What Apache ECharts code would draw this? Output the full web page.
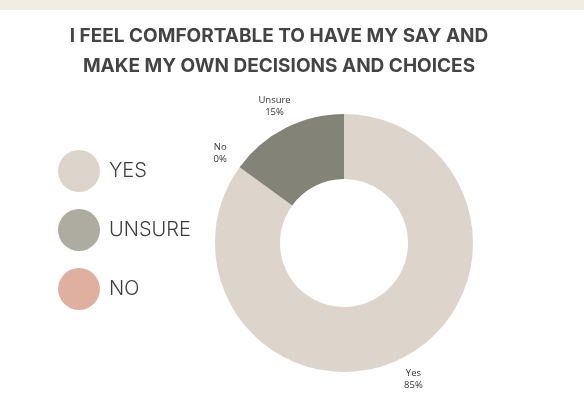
<!DOCTYPE html>
<html><head><meta charset="utf-8">
<script src="https://cdn.jsdelivr.net/npm/echarts@6/dist/echarts.min.js"></script>
<style>html,body{margin:0;padding:0;background:#fff}#c{width:584px;height:407px}</style>
</head><body><div id="c"></div>
<script>
const titleLines = ['I FEEL COMFORTABLE TO HAVE MY SAY AND', 'MAKE MY OWN DECISIONS AND CHOICES'];
const categories = ['Yes', 'No', 'Unsure'];
const values = [85, 0, 15];
const sliceColors = ['#ddd5cc', '#dfb0a0', '#838378'];
const legendNames = ['YES', 'UNSURE', 'NO'];
const legendColors = ['#ddd5cc', '#aeaba0', '#dfb0a0'];
const legendKeys = ['Yes', 'Unsure', 'No'];

const chart = echarts.init(document.getElementById('c'));
const data = categories.map((c, i) => ({name: c, value: values[i], itemStyle: {color: sliceColors[i]}}));
chart.setOption({
  backgroundColor: '#ffffff',
  animation: false,
  graphic: [{type: 'rect', left: 0, top: 0, shape: {width: 584, height: 10}, style: {fill: '#f0ede2'}}],
  title: {
    text: titleLines.join('\n'), left: 274, top: 16, textAlign: 'center',
    textStyle: {fontFamily: 'Inter', fontWeight: 'bold', fontSize: 19, color: '#444444', lineHeight: 30}
  },
  legend: {
    orient: 'vertical', left: 58, top: 150, padding: 0, itemWidth: 42, itemHeight: 42, itemGap: 17,
    icon: 'circle', selectedMode: false,
    formatter: n => legendNames[legendKeys.indexOf(n)],
    textStyle: {fontFamily: 'Inter', fontWeight: 300, fontSize: 20, color: '#3d3d3d', padding: [0, 0, 0, 4]},
    data: legendKeys.map((k, i) => ({name: k, itemStyle: {color: legendColors[i]}}))
  },
  series: [{
    type: 'pie', center: [344, 243], radius: [64, 129], startAngle: 90, clockwise: true,
    label: {show: false}, labelLine: {show: false}, silent: true, data: data
  }, {
    type: 'pie', center: [344, 243], radius: [140, 160], startAngle: 90, clockwise: true,
    itemStyle: {color: 'rgba(0,0,0,0)'}, silent: true,
    label: {show: true, position: 'inside', fontFamily: 'Open Sans', fontSize: 9.5, lineHeight: 12, color: '#333333',
      formatter: p => p.name + '\n' + p.value + '%'},
    labelLine: {show: false},
    data: categories.map((c, i) => ({name: c, value: values[i], itemStyle: {color: 'rgba(0,0,0,0)'}}))
  }]
});
</script></body></html>
